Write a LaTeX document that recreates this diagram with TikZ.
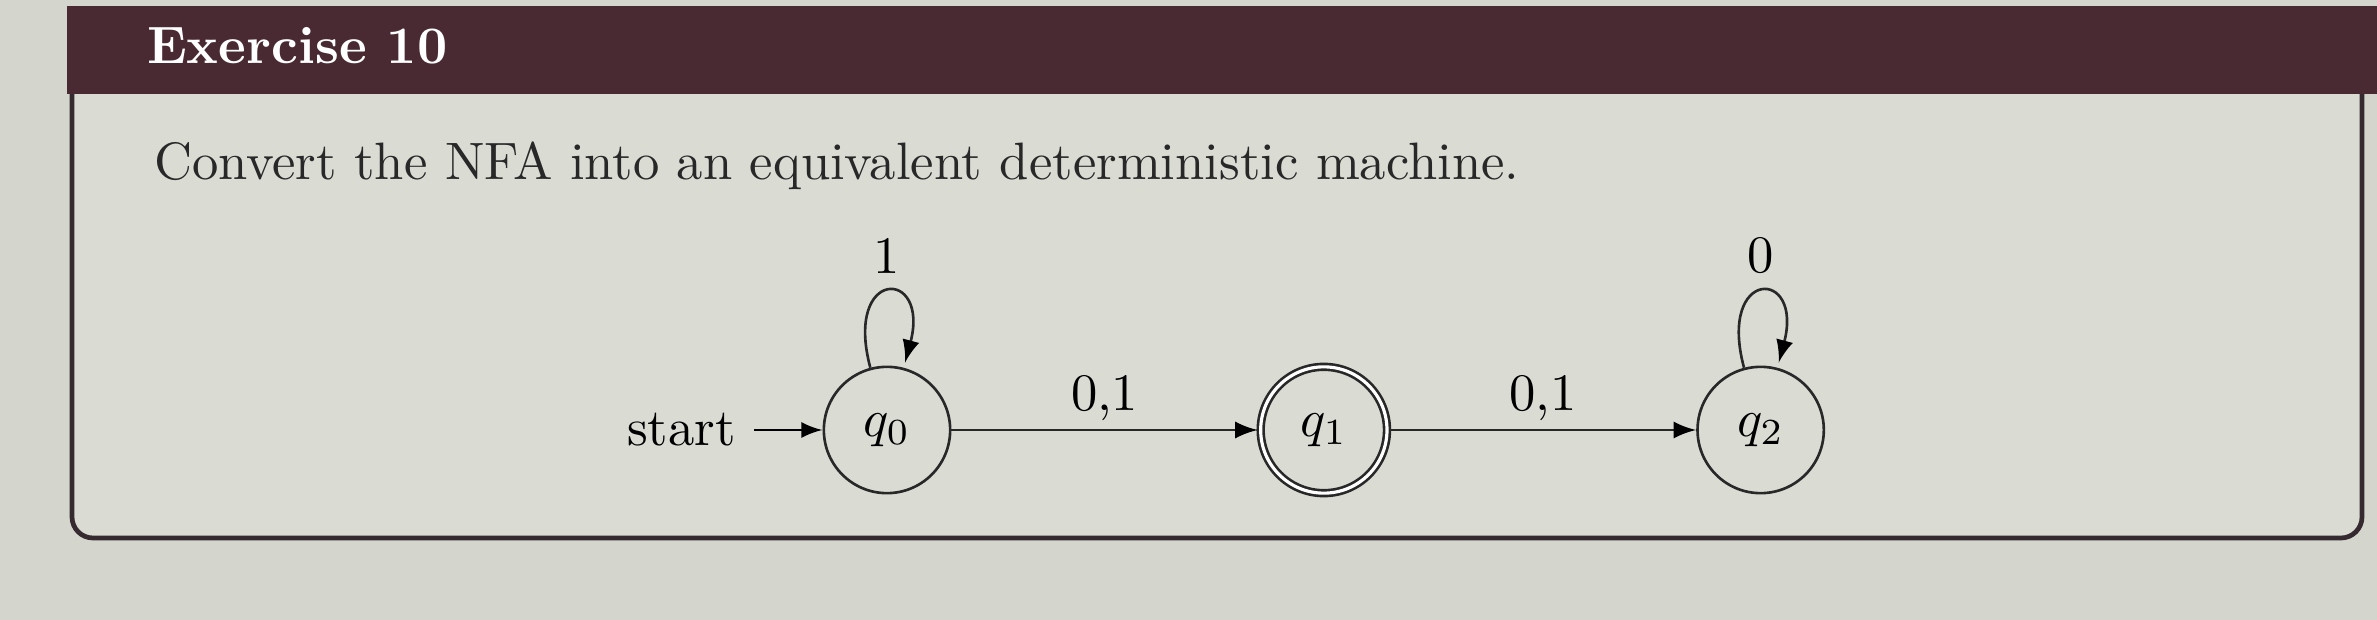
\documentclass[tikz,border=0pt]{standalone}
\usetikzlibrary{automata,positioning,arrows}
\definecolor{barcol}{RGB}{74,42,50}
\definecolor{framecol}{RGB}{52,42,48}
\definecolor{paper}{RGB}{212,214,206}
\definecolor{boxback}{RGB}{218,220,212}
\definecolor{inkcol}{RGB}{40,40,40}

\begin{document}
\begin{tikzpicture}[x=0.19pt, y=-0.19pt, node distance=83pt, on grid, auto, >=latex,
    every state/.style={draw=inkcol, line width=0.5pt, minimum size=24pt, inner sep=0pt},
    edgelabel/.style={inner sep=1.5pt}]
  \useasboundingbox (0,0) rectangle (2377,620);
  % page and exercise box
  \fill[paper] (0,0) rectangle (2377,620);
  \filldraw[fill=boxback, draw=framecol, line width=0.9pt, rounded corners=4pt] (72,60) rectangle (2362,538);
  \fill[barcol] (67,6) rectangle (2377,94);
  \node[anchor=base west, inner sep=0pt, text=white, font=\bfseries] (title) at (146,64) {Exercise 10};
  \node[anchor=base west, inner sep=0pt, text=inkcol] (task) at (153,180) {Convert the NFA into an equivalent deterministic machine.};

  % the NFA
  \node[state, initial] (q0) at (887,430) {$q_0$};
  \node[state, accepting] (q1) [right=of q0] {$q_1$};
  \node[state] (q2) [right=of q1] {$q_2$};

  \path[->, draw=inkcol, line width=0.5pt]
    (q0) edge[loop above] node {1} ()
    (q0) edge node[edgelabel] {0,1} (q1)
    (q1) edge node[edgelabel] {0,1} (q2)
    (q2) edge[loop above] node {0} ();
\end{tikzpicture}
\end{document}
